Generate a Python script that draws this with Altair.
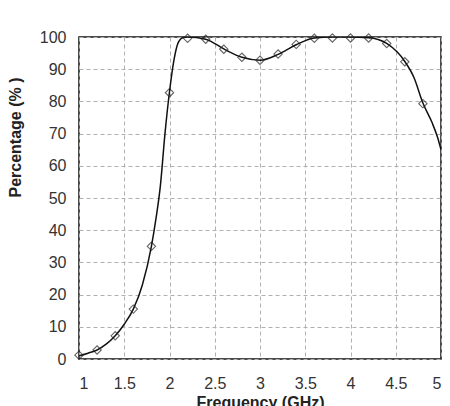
import altair as alt
import pandas as pd

# measured markers (open symbols)
marker_freq = [1.0, 1.2, 1.4, 1.6, 1.8, 2.0, 2.2, 2.4, 2.6, 2.8, 3.0, 3.2, 3.4,
               3.6, 3.8, 4.0, 4.2, 4.4, 4.6, 4.8]
marker_pct = [1.2, 2.8, 7.2, 15.5, 35.0, 82.7, 99.6, 99.3, 96.2, 93.7, 92.8, 94.7, 97.7,
              99.6, 99.7, 99.7, 99.7, 98.0, 92.3, 79.3]

# solid curve
curve_freq = [1.0, 1.1, 1.2, 1.3, 1.4, 1.5, 1.6, 1.7, 1.8, 1.85, 1.9, 1.95, 2.0, 2.05,
              2.1, 2.15, 2.2, 2.4, 2.6, 2.8, 3.0, 3.2, 3.4, 3.6, 3.8, 4.0, 4.2, 4.4,
              4.6, 4.7, 4.8, 4.9, 4.96, 5.0]
curve_pct = [1.0, 1.8, 2.8, 4.6, 7.2, 10.8, 15.5, 23.0, 35.0, 43.5, 54.0, 70.0, 83.0, 93.0,
             98.5, 99.8, 100.0, 99.3, 96.3, 93.7, 92.8, 94.6, 97.6, 99.7, 100.0, 100.0, 99.8, 98.0,
             92.4, 87.5, 79.5, 73.5, 69.0, 65.0]

x_ticks = [1, 1.5, 2, 2.5, 3, 3.5, 4, 4.5, 5]
y_ticks = [0, 10, 20, 30, 40, 50, 60, 70, 80, 90, 100]

markers = pd.DataFrame({"f": marker_freq, "p": marker_pct})
curve = pd.DataFrame({"f": curve_freq, "p": curve_pct})

xenc = alt.X("f:Q", scale=alt.Scale(domain=[1, 5], nice=False, zero=False),
             axis=alt.Axis(values=x_ticks, format="~g", title="Frequency (GHz)",
                           ticks=False, domain=False, labelPadding=16,
                           labelFontSize=16, labelColor="#333333", labelFont="Liberation Sans",
                           titleFontSize=16, titleFont="Liberation Sans", titleFontWeight="bold",
                           titleColor="#222222", titleBaseline="alphabetic", titleY=48,
                           titleX=181, titleAlign="center",
                           grid=True, gridDash=[4, 3], gridColor="#b0b0b0", gridWidth=1))
yenc = alt.Y("p:Q", scale=alt.Scale(domain=[0, 100], nice=False),
             axis=alt.Axis(values=y_ticks, title="Percentage (% )",
                           ticks=False, domain=False, labelPadding=13,
                           labelFontSize=16, labelColor="#333333", labelFont="Liberation Sans",
                           titleFontSize=16, titleFont="Liberation Sans", titleFontWeight="bold",
                           titleColor="#222222", titleAngle=270, titleAlign="center",
                           titleBaseline="middle", titleX=-64, titleY=100,
                           grid=True, gridDash=[4, 3], gridColor="#b0b0b0", gridWidth=1))

line = alt.Chart(curve).mark_line(color="#111111", strokeWidth=1.5, interpolate="monotone",
                                  clip=True).encode(x=xenc, y=yenc, order="f:Q")
pts = alt.Chart(markers).mark_point(shape="diamond", size=70, filled=False, color="#222222",
                                    strokeWidth=1.1, clip=False).encode(x=xenc, y=yenc)

chart = alt.layer(line, pts).properties(
    width=362, height=322,
    autosize=alt.AutoSizeParams(type="none"),
    padding={"left": 79, "top": 37, "right": 9, "bottom": 47},
    background="white",
).configure_view(stroke="#111111", strokeWidth=1.5)

chart.save("out.html", embed_options={"renderer": "svg", "actions": False})
